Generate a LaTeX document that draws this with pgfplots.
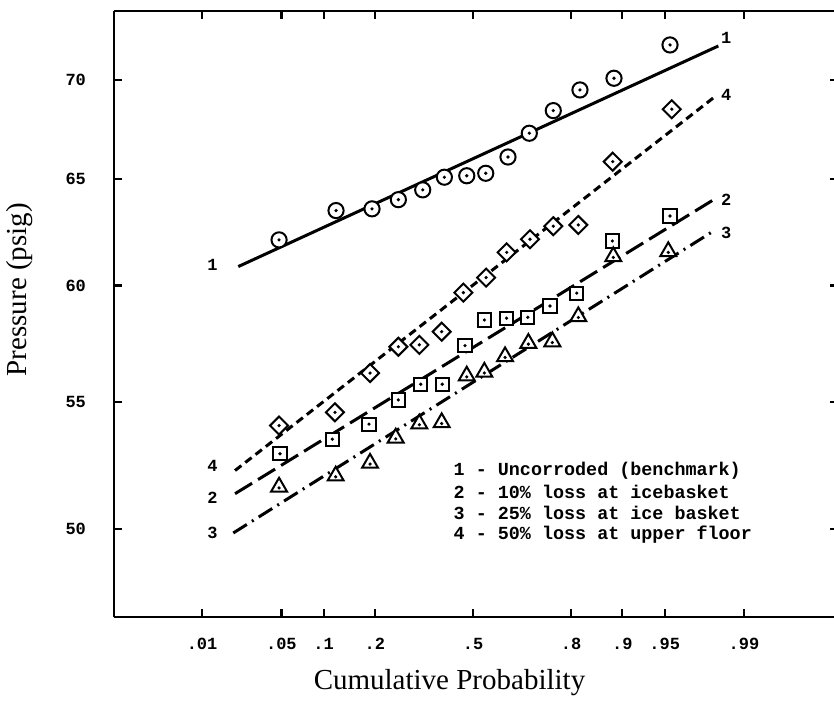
\documentclass[border=0pt]{standalone}
\usepackage{fontspec}
\setmainfont{Liberation Serif}
\setmonofont{Liberation Mono}
\usepackage{pgfplots}
\usepackage{pgfplotstable}
\pgfplotsset{compat=1.18}

% open marks with a dot in the middle
\pgfdeclareplotmark{odot}{%
  \pgfsetfillcolor{white}%
  \pgfpathcircle{\pgfpointorigin}{\pgfplotmarksize}\pgfusepathqfillstroke
  \pgfsetfillcolor{black}\pgfpathcircle{\pgfpointorigin}{0.9pt}\pgfusepathqfill}
\pgfdeclareplotmark{sqdot}{%
  \pgfsetfillcolor{white}%
  \pgfpathrectanglecorners{\pgfpoint{-\pgfplotmarksize}{-\pgfplotmarksize}}{\pgfpoint{\pgfplotmarksize}{\pgfplotmarksize}}\pgfusepathqfillstroke
  \pgfsetfillcolor{black}\pgfpathcircle{\pgfpointorigin}{0.9pt}\pgfusepathqfill}
\pgfdeclareplotmark{didot}{%
  \pgfsetfillcolor{white}%
  \pgfpathmoveto{\pgfpoint{0pt}{\pgfplotmarksize}}
  \pgfpathlineto{\pgfpoint{\pgfplotmarksize}{0pt}}
  \pgfpathlineto{\pgfpoint{0pt}{-\pgfplotmarksize}}
  \pgfpathlineto{\pgfpoint{-\pgfplotmarksize}{0pt}}
  \pgfpathclose\pgfusepathqfillstroke
  \pgfsetfillcolor{black}\pgfpathcircle{\pgfpointorigin}{0.9pt}\pgfusepathqfill}
\pgfdeclareplotmark{tridot}{%
  \pgfsetfillcolor{white}%
  \pgfpathmoveto{\pgfpoint{0pt}{\pgfplotmarksize}}
  \pgfpathlineto{\pgfpoint{-0.866\pgfplotmarksize}{-0.5\pgfplotmarksize}}
  \pgfpathlineto{\pgfpoint{0.866\pgfplotmarksize}{-0.5\pgfplotmarksize}}
  \pgfpathclose\pgfusepathqfillstroke
  \pgfsetfillcolor{black}\pgfpathcircle{\pgfpoint{0pt}{-0.1\pgfplotmarksize}}{0.9pt}\pgfusepathqfill}

% x = normal score of the plotting position, P = pressure (psig)
\pgfplotstableread{
z P
-1.665 62.09
-1.176 63.47
-0.867 63.55
-0.641 63.99
-0.432 64.46
-0.246 65.08
-0.054 65.15
0.109 65.27
0.300 66.07
0.483 67.26
0.689 68.41
0.918 69.48
1.210 70.09
1.691 71.86
}\uncorroded
\pgfplotstableread{
z P
-1.657 52.89
-1.208 53.47
-0.893 54.08
-0.641 55.07
-0.449 55.72
-0.264 55.72
-0.069 57.36
0.097 58.47
0.288 58.55
0.470 58.59
0.661 59.09
0.890 59.66
1.196 62.04
1.691 63.21
}\tenloss
\pgfplotstableread{
z P
-1.665 51.59
-1.179 52.02
-0.884 52.52
-0.664 53.52
-0.461 54.09
-0.269 54.14
-0.054 56.07
0.097 56.23
0.275 56.89
0.475 57.46
0.681 57.53
0.904 58.62
1.204 61.32
1.676 61.55
}\twentyfiveloss
\pgfplotstableread{
z P
-1.665 54.02
-1.185 54.56
-0.884 56.19
-0.641 57.31
-0.461 57.39
-0.269 57.96
-0.083 59.68
0.112 60.36
0.289 61.51
0.489 62.12
0.689 62.73
0.904 62.79
1.199 65.84
1.706 68.48
}\fiftyloss

\begin{document}
\begin{tikzpicture}
\useasboundingbox (-57pt,-50.5pt) rectangle (360pt,308.5pt);
\begin{axis}[scale only axis, width=362pt, height=303pt,
  xmin=-3.082, xmax=3.133, ymin=46.80, ymax=73.72, ymode=log,
  separate axis lines, axis line style={line width=1.4pt},
  tick align=inside, major tick length=4pt, tick style={line width=1.1pt, black},
  xtick={-2.326,-1.645,-1.282,-0.842,0,0.842,1.282,1.645,2.326},
  xticklabels={.01,.05,.1,.2,.5,.8,.9,.95,.99},
  ytick={50,55,60,65,70}, yticklabels={50,55,60,65,70},
  ticklabel style={font=\ttfamily\bfseries\fontsize{8.5}{10}\selectfont},
  xticklabel style={yshift=-7pt}, yticklabel style={xshift=-10.5pt},
  xlabel={Cumulative Probability}, ylabel={Pressure (psig)},
  label style={font=\fontsize{14.5}{17}\selectfont},
  xlabel style={at={(axis description cs:0.4634,-0.1089)}, anchor=center},
  ylabel style={at={(axis description cs:-0.1298,0.54)}, anchor=center},
  every axis plot/.append style={black}]

% fitted lines
\addplot[line width=1.5pt] coordinates {(-2.015,60.86) (2.106,71.81)};
\addplot[line width=1.5pt, dash pattern=on 4pt off 2.5pt] coordinates {(-2.043,52.23) (2.086,69.17)};
\addplot[line width=1.5pt, dash pattern=on 10pt off 3.5pt] coordinates {(-2.043,51.33) (2.063,63.98)};
\addplot[line width=1.5pt, dash pattern=on 8pt off 3pt on 1pt off 3pt] coordinates {(-2.058,49.84) (2.077,62.55)};

% data points
\addplot[only marks, mark=odot, mark size=3.8pt, mark options={line width=1pt}] table {\uncorroded};
\addplot[only marks, mark=sqdot, mark size=3.3pt, mark options={line width=1pt}] table {\tenloss};
\addplot[only marks, mark=tridot, mark size=4.6pt, mark options={line width=1pt}] table {\twentyfiveloss};
\addplot[only marks, mark=didot, mark size=4.5pt, mark options={line width=1pt}] table {\fiftyloss};

% line numbers
\begin{scope}[font=\ttfamily\bfseries\fontsize{8.5}{10}\selectfont, inner sep=0pt]
\node at (rel axis cs:0.1360,0.5809) {1};
\node at (rel axis cs:0.1360,0.2492) {4};
\node at (rel axis cs:0.1360,0.1964) {2};
\node at (rel axis cs:0.1360,0.1381) {3};
\node at (rel axis cs:0.8457,0.9550) {1};
\node at (rel axis cs:0.8457,0.8614) {4};
\node at (rel axis cs:0.8457,0.6881) {2};
\node at (rel axis cs:0.8457,0.6332) {3};
\end{scope}

% key
\begin{scope}[font=\ttfamily\bfseries\fontsize{9.2}{11}\selectfont, inner sep=0pt, anchor=west]
\node at (rel axis cs:0.4687,0.2414) {1 - Uncorroded (benchmark)};
\node at (rel axis cs:0.4687,0.2058) {2 - 10\% loss at icebasket};
\node at (rel axis cs:0.4687,0.1711) {3 - 25\% loss at ice basket};
\node at (rel axis cs:0.4687,0.1353) {4 - 50\% loss at upper floor};
\end{scope}
\end{axis}
\end{tikzpicture}
\end{document}
